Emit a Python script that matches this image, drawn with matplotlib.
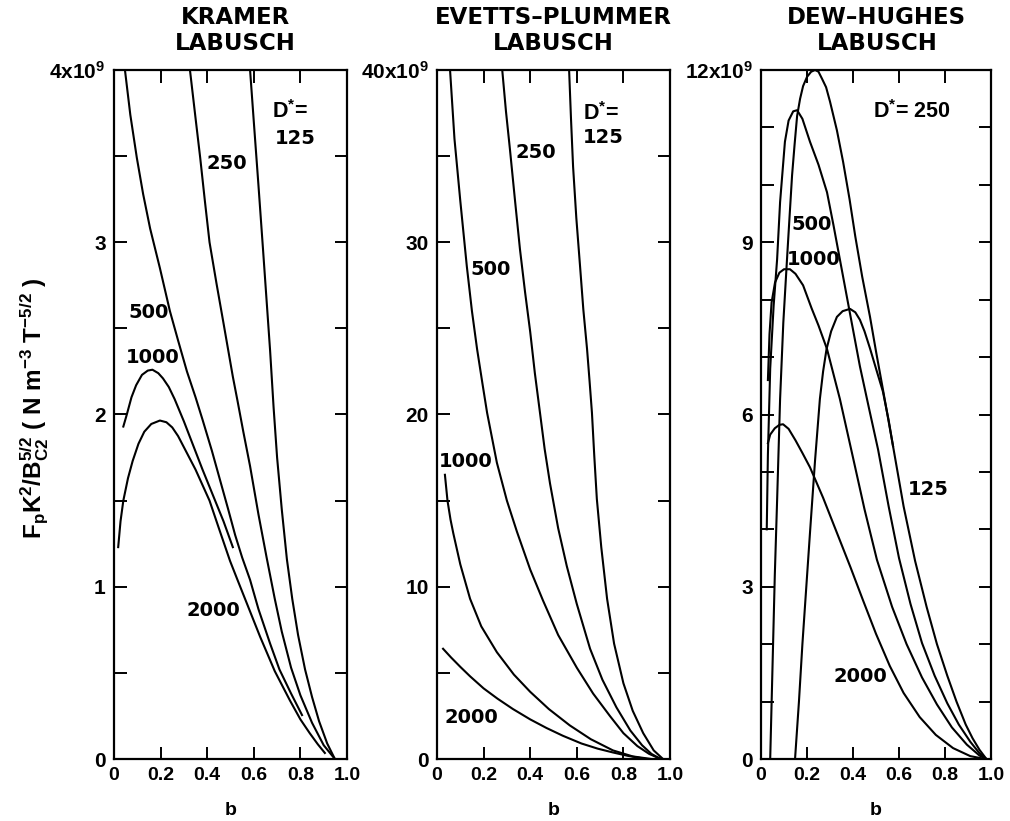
import matplotlib
matplotlib.use("Agg")
import matplotlib.pyplot as plt
from matplotlib.ticker import MultipleLocator

plt.rcParams['font.family'] = 'Liberation Sans'
plt.rcParams['font.weight'] = 'bold'
plt.rcParams['axes.labelweight'] = 'bold'
plt.rcParams['mathtext.fontset'] = 'custom'
plt.rcParams['mathtext.rm'] = 'Liberation Sans:bold'
plt.rcParams['mathtext.it'] = 'Liberation Sans:bold'
plt.rcParams['mathtext.bf'] = 'Liberation Sans:bold'
plt.rcParams['mathtext.default'] = 'rm'

# values in units of 1e9
# Kramer - Labusch
kr_b_125 = [0.584, 0.60, 0.62, 0.64, 0.655, 0.67, 0.685, 0.70, 0.72, 0.742, 0.765, 0.79,
            0.82, 0.85, 0.88, 0.915, 0.948]
kr_f_125 = [4.0, 3.7, 3.33, 2.95, 2.66, 2.37, 2.04, 1.75, 1.45, 1.16, 0.93, 0.72,
            0.52, 0.36, 0.22, 0.09, 0.0]
kr_b_250 = [0.326, 0.35, 0.37, 0.39, 0.41, 0.44, 0.47, 0.51, 0.53, 0.555, 0.584, 0.62,
            0.655, 0.69, 0.72, 0.76, 0.80, 0.85, 0.90, 0.948]
kr_f_250 = [4.0, 3.72, 3.49, 3.24, 3.0, 2.76, 2.53, 2.22, 2.08, 1.9, 1.70, 1.42,
            1.17, 0.93, 0.74, 0.53, 0.37, 0.21, 0.08, 0.0]
kr_b_500 = [0.047, 0.07, 0.098, 0.125, 0.155, 0.197, 0.24, 0.275, 0.313, 0.35, 0.38, 0.42,
            0.455, 0.49, 0.52, 0.55, 0.584, 0.62, 0.67, 0.71, 0.76, 0.807]
kr_f_500 = [4.0, 3.74, 3.49, 3.28, 3.08, 2.85, 2.6, 2.43, 2.25, 2.1, 1.97, 1.79,
            1.62, 1.45, 1.3, 1.17, 1.04, 0.87, 0.67, 0.52, 0.38, 0.255]
kr_b_1000 = [0.04, 0.055, 0.075, 0.095, 0.12, 0.145, 0.165, 0.19, 0.21, 0.235, 0.26, 0.30,
             0.34, 0.38, 0.425, 0.47, 0.51]
kr_f_1000 = [1.93, 2.0, 2.1, 2.17, 2.23, 2.255, 2.26, 2.24, 2.21, 2.16, 2.09, 1.96,
             1.82, 1.68, 1.53, 1.38, 1.23]
kr_b_2000 = [0.018, 0.028, 0.04, 0.06, 0.08, 0.105, 0.13, 0.16, 0.197, 0.225, 0.25, 0.275,
             0.30, 0.35, 0.41, 0.45, 0.498, 0.53, 0.58, 0.627, 0.69, 0.755, 0.80, 0.84,
             0.875, 0.905]
kr_f_2000 = [1.23, 1.38, 1.5, 1.63, 1.73, 1.83, 1.9, 1.945, 1.965, 1.955, 1.925, 1.875,
             1.81, 1.68, 1.5, 1.34, 1.15, 1.04, 0.87, 0.71, 0.51, 0.34, 0.23, 0.15,
             0.085, 0.035]

# Evetts-Plummer - Labusch
ep_b_125 = [0.567, 0.575, 0.584, 0.598, 0.614, 0.628, 0.644, 0.655, 0.665, 0.675, 0.686,
            0.705, 0.73, 0.76, 0.80, 0.84, 0.885, 0.93, 0.97]
ep_f_125 = [40.0, 37.2, 34.4, 31.4, 28.6, 26.1, 23.8, 21.9, 20.1, 17.6, 15.1,
            12.3, 9.3, 6.7, 4.4, 2.8, 1.5, 0.5, 0.0]
ep_b_250 = [0.28, 0.296, 0.313, 0.335, 0.356, 0.378, 0.40, 0.42, 0.442, 0.462, 0.485,
            0.52, 0.557, 0.60, 0.657, 0.71, 0.77, 0.83, 0.88, 0.92, 0.96]
ep_f_250 = [40.0, 37.6, 35.4, 32.4, 29.6, 27.1, 24.8, 22.4, 20.1, 18.0, 16.0,
            13.4, 11.2, 9.0, 6.4, 4.6, 3.0, 1.65, 0.8, 0.3, 0.0]
ep_b_500 = [0.056, 0.075, 0.10, 0.128, 0.15, 0.172, 0.195, 0.215, 0.257, 0.30, 0.343,
            0.40, 0.455, 0.52, 0.60, 0.67, 0.742, 0.80, 0.86, 0.91, 0.96]
ep_f_500 = [40.0, 36.0, 32.4, 28.6, 26.0, 23.8, 21.8, 20.1, 17.2, 15.0, 13.2,
            11.0, 9.2, 7.2, 5.3, 3.8, 2.5, 1.5, 0.75, 0.3, 0.0]
ep_b_1000 = [0.034, 0.045, 0.058, 0.07, 0.10, 0.142, 0.19, 0.257, 0.33, 0.40, 0.48,
             0.57, 0.66, 0.755, 0.84, 0.92]
ep_f_1000 = [16.5, 15.0, 13.9, 13.1, 11.3, 9.3, 7.7, 6.2, 4.9, 3.9, 2.9,
             1.95, 1.15, 0.5, 0.15, 0.0]
ep_b_2000 = [0.026, 0.06, 0.10, 0.142, 0.20, 0.26, 0.326, 0.40, 0.47, 0.54, 0.62,
             0.69, 0.755, 0.82, 0.90]
ep_f_2000 = [6.4, 5.9, 5.35, 4.8, 4.1, 3.5, 2.9, 2.3, 1.8, 1.35, 0.9,
             0.6, 0.38, 0.18, 0.0]

# Dew-Hughes - Labusch
dh_b_125 = [0.148, 0.165, 0.18, 0.197, 0.213, 0.235, 0.256, 0.27, 0.285, 0.305, 0.33,
            0.355, 0.387, 0.41, 0.43, 0.45, 0.474, 0.50, 0.53, 0.555, 0.574]
dh_f_125 = [0.0, 1.0, 2.0, 3.0, 3.94, 5.2, 6.27, 6.75, 7.14, 7.45, 7.7,
            7.8, 7.84, 7.78, 7.65, 7.45, 7.15, 6.8, 6.4, 5.9, 5.45]
dh_b_250 = [0.04, 0.05, 0.06, 0.07, 0.083, 0.097, 0.113, 0.125, 0.135, 0.146, 0.157,
            0.17, 0.183, 0.20, 0.218, 0.235, 0.25, 0.265, 0.283, 0.30, 0.33, 0.357,
            0.385, 0.41, 0.44, 0.474, 0.50, 0.53, 0.574, 0.62, 0.67, 0.72, 0.765,
            0.81, 0.85, 0.89, 0.92, 0.95, 0.98]
dh_f_250 = [0.0, 1.6, 3.2, 4.5, 6.27, 7.6, 8.7, 9.5, 10.16, 10.7, 11.2,
            11.5, 11.72, 11.88, 11.97, 12.0, 11.97, 11.85, 11.7, 11.45, 10.95, 10.4,
            9.75, 9.1, 8.4, 7.7, 7.1, 6.44, 5.45, 4.4, 3.45, 2.65, 2.0,
            1.45, 1.0, 0.6, 0.36, 0.16, 0.0]
dh_b_500 = [0.025, 0.03, 0.04, 0.055, 0.07, 0.083, 0.104, 0.12, 0.14, 0.157, 0.18, 0.213,
            0.25, 0.287, 0.315, 0.343, 0.385, 0.43, 0.47, 0.509, 0.555, 0.60, 0.65,
            0.70, 0.755, 0.81, 0.86, 0.91, 0.95, 0.98]
dh_f_500 = [4.0, 5.3, 6.8, 7.9, 8.7, 9.7, 10.75, 11.12, 11.28, 11.3, 11.15, 10.75,
            10.35, 9.87, 9.3, 8.7, 7.8, 6.84, 6.1, 5.39, 4.4, 3.5, 2.7,
            2.02, 1.45, 0.97, 0.6, 0.3, 0.1, 0.0]
dh_b_1000 = [0.03, 0.037, 0.046, 0.061, 0.08, 0.10, 0.126, 0.15, 0.183, 0.22, 0.25, 0.287,
             0.343, 0.40, 0.45, 0.504, 0.57, 0.633, 0.70, 0.765, 0.83, 0.895, 0.95, 0.98]
dh_f_1000 = [6.6, 7.4, 7.95, 8.3, 8.47, 8.53, 8.53, 8.45, 8.25, 7.85, 7.55, 7.14,
             6.27, 5.25, 4.35, 3.47, 2.65, 2.0, 1.42, 0.95, 0.55, 0.25, 0.06, 0.0]
dh_b_2000 = [0.03, 0.04, 0.06, 0.08, 0.096, 0.12, 0.15, 0.18, 0.213, 0.27, 0.33, 0.39,
             0.443, 0.50, 0.56, 0.62, 0.69, 0.76, 0.835, 0.91, 0.975]
dh_f_2000 = [5.5, 5.65, 5.76, 5.82, 5.83, 5.75, 5.55, 5.33, 5.08, 4.55, 3.94, 3.33,
             2.77, 2.18, 1.62, 1.15, 0.73, 0.42, 0.19, 0.05, 0.0]

x_ticks = [0, 0.2, 0.4, 0.6, 0.8, 1.0]
x_ticklabels = ['0', '0.2', '0.4', '0.6', '0.8', '1.0']

panels = [
    dict(title='KRAMER\nLABUSCH', tx=0.52,
         curves=[(kr_b_125, kr_f_125), (kr_b_250, kr_f_250), (kr_b_500, kr_f_500),
                 (kr_b_1000, kr_f_1000), (kr_b_2000, kr_f_2000)],
         ymax=4, ystep=1, yminor=0.5,
         yticklabels=['0', '1', '2', '3', r'4x10$^{9}$'],
         labels=[('250', 0.485, 3.455, 'center'), ('500', 0.15, 2.59, 'center'),
                 ('1000', 0.167, 2.33, 'center'), ('2000', 0.425, 0.864, 'center'),
                 ('125', 0.69, 3.60, 'left')],
         dstar=(r'D$^{*}$=', 0.68, 3.76)),
    dict(title='EVETTS\u2013PLUMMER\nLABUSCH', tx=0.50,
         curves=[(ep_b_125, ep_f_125), (ep_b_250, ep_f_250), (ep_b_500, ep_f_500),
                 (ep_b_1000, ep_f_1000), (ep_b_2000, ep_f_2000)],
         ymax=40, ystep=10, yminor=5,
         yticklabels=['0', '10', '20', '30', r'40x10$^{9}$'],
         labels=[('250', 0.425, 35.2, 'center'), ('500', 0.232, 28.4, 'center'),
                 ('1000', 0.124, 17.3, 'center'), ('2000', 0.146, 2.43, 'center'),
                 ('125', 0.627, 36.06, 'left')],
         dstar=(r'D$^{*}$=', 0.627, 37.5)),
    dict(title='DEW\u2013HUGHES\nLABUSCH', tx=0.504,
         curves=[(dh_b_125, dh_f_125), (dh_b_250, dh_f_250), (dh_b_500, dh_f_500),
                 (dh_b_1000, dh_f_1000), (dh_b_2000, dh_f_2000)],
         ymax=12, ystep=3, yminor=1,
         yticklabels=['0', '3', '6', '9', r'12x10$^{9}$'],
         labels=[('500', 0.222, 9.31, 'center'), ('1000', 0.23, 8.7, 'center'),
                 ('125', 0.726, 4.69, 'center'), ('2000', 0.43, 1.43, 'center')],
         dstar=(r'D$^{*}$= 250', 0.487, 11.27)),
]

fig = plt.figure(figsize=(10.1, 8.21), dpi=100)
lefts = [114, 437, 761]
widths = [233, 233, 230]

for p, left, w in zip(panels, lefts, widths):
    ax = fig.add_axes([left / 1010, 62 / 821, w / 1010, 689 / 821])
    for b, f in p['curves']:
        ax.plot(b, f, color='black', lw=1.5, solid_joinstyle='round')
    ax.set_xlim(0, 1.0)
    ax.set_ylim(0, p['ymax'])
    ax.set_xticks(x_ticks)
    ax.set_xticklabels(x_ticklabels, fontsize=14)
    ax.set_yticks([p['ystep'] * i for i in range(5)])
    ax.set_yticklabels(p['yticklabels'], fontsize=15)
    ax.yaxis.set_minor_locator(MultipleLocator(p['yminor']))
    ax.tick_params(which='both', direction='in', top=True, right=True,
                   length=9, width=1.4, pad=6)
    for s in ax.spines.values():
        s.set_linewidth(1.6)
    ax.set_xlabel('b', fontsize=14, fontweight='bold', labelpad=13)
    ax.text(p['tx'], 1.0 + 15 / 689, p['title'], transform=ax.transAxes,
            ha='center', va='bottom', fontsize=16.5, family='DejaVu Sans',
            fontweight='bold', linespacing=1.15)
    for txt, bx, fy, ha in p['labels']:
        ax.text(bx, fy, txt, ha=ha, va='center', fontsize=14,
                family='DejaVu Sans', fontweight='bold')
    ds, dx, dy = p['dstar']
    ax.text(dx, dy, ds, ha='left', va='center', fontsize=15.5)

fig.text(35 / 1010, 1 - 408 / 821,
         r'$F_pK^2/B_{C2}^{5/2}$ ( N m$^{-3}$ T$^{-5/2}$ )',
         rotation=90, ha='center', va='center', fontsize=17.5)

fig.savefig('out.png', dpi=100)
